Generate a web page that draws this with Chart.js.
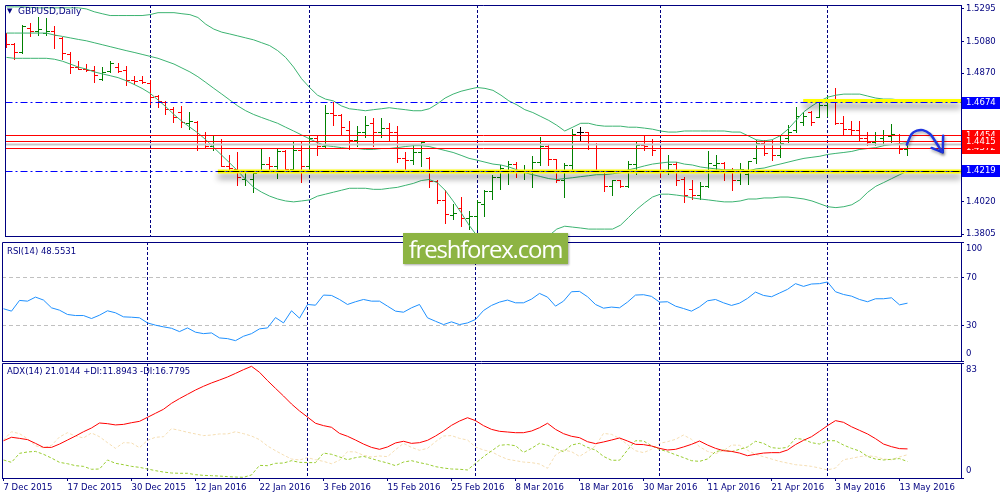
<!DOCTYPE html>
<html>
<head>
<meta charset="utf-8">
<title>GBPUSD Daily</title>
<script src="https://cdn.jsdelivr.net/npm/chart.js@4.4.1/dist/chart.umd.min.js"></script>
<style>
  html, body { margin: 0; background: #fff; }
  #wrap { position: relative; width: 1000px; height: 500px; overflow: hidden; background: #fff; }
  canvas { position: absolute; left: 0; }
  .t { position: absolute; font: 8.5px "DejaVu Sans", sans-serif; color: #000080; line-height: 10px; white-space: nowrap; }
  #wm { position: absolute; left: 403px; top: 233px; width: 165px; height: 31px; background: #8db443; color: #fff;
        font: 24px "Open Sans", sans-serif; letter-spacing: -1.2px; line-height: 31px; text-align: center;
        box-shadow: 1px 1px 2px rgba(0,0,0,0.35); }
</style>
</head>
<body>
<div id="wrap">
  <canvas id="main" width="1000" height="241" style="top:0;width:1000px;height:241px"></canvas>
  <canvas id="rsi" width="1000" height="121" style="top:241px;width:1000px;height:121px"></canvas>
  <canvas id="adx" width="1000" height="138" style="top:362px;width:1000px;height:138px"></canvas>
  <div class="t" style="left:7px;top:6px;font-size:7px">▼</div>
  <div class="t" style="left:18px;top:6px;font-size:9px">GBPUSD,Daily</div>
  <div class="t" style="left:7px;top:246px">RSI(14) 48.5531</div>
  <div class="t" style="left:7px;top:366px">ADX(14) 21.0144 +DI:11.8943 -DI:16.7795</div>
  <div id="wm">freshforex.com</div>
</div>
<script>
const NAVY = '#000080', UP = '#008000', DOWN = '#ff0000', BAND = '#3cb371';
const AXIS_FONT = { family: '"DejaVu Sans", sans-serif', size: 8.5, lineHeight: 1.6 };

// x axis: one bar per trading day, 7 Dec 2015 .. 16 May 2016
const dateLabels = ['7 Dec 2015', '17 Dec 2015', '30 Dec 2015', '12 Jan 2016', '22 Jan 2016', '3 Feb 2016', '15 Feb 2016',
  '25 Feb 2016', '8 Mar 2016', '18 Mar 2016', '30 Mar 2016', '11 Apr 2016', '21 Apr 2016', '3 May 2016', '13 May 2016'];
const labelBars = [0, 8, 16, 24, 32, 40, 48, 56, 64, 72, 80, 88, 96, 104, 112];
const monthStarts = [18, 38, 59, 82, 103];

const priceTicks = [1.3805, 1.4020, 1.4230, 1.4440, 1.4655, 1.4870, 1.5080, 1.5295];
const rsiTicks = [0, 30, 70, 100];
const adxTicks = [0, 83];

const openP = [
  1.5116, 1.5058, 1.5007, 1.5167, 1.5148, 1.5129, 1.5148, 1.5096, 1.4994, 1.4910,
  1.4897, 1.4884, 1.4827, 1.4878, 1.4910, 1.4884, 1.4820, 1.4820, 1.4801, 1.4718,
  1.4673, 1.4628, 1.4609, 1.4538, 1.4544, 1.4455, 1.4384, 1.4416, 1.4255, 1.4230,
  1.4166, 1.4166, 1.4223, 1.4268, 1.4249, 1.4352, 1.4230, 1.4358, 1.4249, 1.4435,
  1.4384, 1.4602, 1.4589, 1.4487, 1.4422, 1.4474, 1.4538, 1.4480, 1.4506, 1.4480,
  1.4306, 1.4294, 1.4345, 1.4306, 1.4153, 1.4024, 1.3928, 1.3973, 1.3909, 1.3921,
  1.4000, 1.4088, 1.4178, 1.4223, 1.4268, 1.4211, 1.4211, 1.4281, 1.4384, 1.4300,
  1.4159, 1.4256, 1.4480, 1.4474, 1.4371, 1.4223, 1.4121, 1.4159, 1.4121, 1.4262,
  1.4390, 1.4371, 1.4371, 1.4223, 1.4268, 1.4166, 1.4101, 1.4063, 1.4121, 1.4256,
  1.4275, 1.4211, 1.4159, 1.4198, 1.4306, 1.4403, 1.4371, 1.4326, 1.4435, 1.4487,
  1.4544, 1.4609, 1.4576, 1.4654, 1.4692, 1.4538, 1.4499, 1.4493, 1.4435, 1.4410,
  1.4435, 1.4448, 1.4455, 1.4365];
const highP = [
  1.5129, 1.5064, 1.5186, 1.5199, 1.5238, 1.5231, 1.5180, 1.5103, 1.5007, 1.4949,
  1.4930, 1.4917, 1.4904, 1.4949, 1.4936, 1.4917, 1.4846, 1.4846, 1.4820, 1.4724,
  1.4679, 1.4641, 1.4647, 1.4609, 1.4551, 1.4480, 1.4448, 1.4429, 1.4326, 1.4345,
  1.4223, 1.4223, 1.4365, 1.4313, 1.4365, 1.4358, 1.4416, 1.4416, 1.4448, 1.4448,
  1.4653, 1.4673, 1.4596, 1.4551, 1.4519, 1.4583, 1.4570, 1.4570, 1.4538, 1.4519,
  1.4345, 1.4397, 1.4416, 1.4313, 1.4159, 1.4095, 1.3999, 1.4044, 1.3954, 1.4024,
  1.4095, 1.4191, 1.4256, 1.4288, 1.4281, 1.4256, 1.4320, 1.4442, 1.4390, 1.4300,
  1.4275, 1.4499, 1.4512, 1.4474, 1.4403, 1.4223, 1.4159, 1.4159, 1.4288, 1.4416,
  1.4455, 1.4429, 1.4377, 1.4326, 1.4281, 1.4178, 1.4159, 1.4146, 1.4352, 1.4326,
  1.4281, 1.4242, 1.4275, 1.4288, 1.4422, 1.4422, 1.4422, 1.4455, 1.4525, 1.4641,
  1.4609, 1.4615, 1.4686, 1.4718, 1.4769, 1.4583, 1.4551, 1.4551, 1.4480, 1.4480,
  1.4487, 1.4532, 1.4467, 1.4410];
const lowP = [
  1.5039, 1.4962, 1.5000, 1.5109, 1.5122, 1.5116, 1.5032, 1.4962, 1.4865, 1.4891,
  1.4878, 1.4808, 1.4820, 1.4872, 1.4872, 1.4788, 1.4795, 1.4801, 1.4660, 1.4641,
  1.4596, 1.4544, 1.4512, 1.4499, 1.4358, 1.4371, 1.4358, 1.4249, 1.4230, 1.4127,
  1.4127, 1.4082, 1.4211, 1.4223, 1.4172, 1.4230, 1.4223, 1.4146, 1.4223, 1.4326,
  1.4377, 1.4525, 1.4455, 1.4365, 1.4384, 1.4442, 1.4384, 1.4442, 1.4416, 1.4281,
  1.4230, 1.4262, 1.4249, 1.4114, 1.4005, 1.3877, 1.3902, 1.3857, 1.3838, 1.3838,
  1.3921, 1.4037, 1.4101, 1.4133, 1.4178, 1.4166, 1.4114, 1.4256, 1.4256, 1.4146,
  1.4050, 1.4217, 1.4416, 1.4365, 1.4211, 1.4089, 1.4063, 1.4114, 1.4114, 1.4198,
  1.4358, 1.4326, 1.4178, 1.4198, 1.4127, 1.4011, 1.4037, 1.4037, 1.4114, 1.4211,
  1.4159, 1.4095, 1.4133, 1.4133, 1.4275, 1.4326, 1.4294, 1.4313, 1.4410, 1.4480,
  1.4525, 1.4525, 1.4576, 1.4583, 1.4532, 1.4455, 1.4455, 1.4422, 1.4390, 1.4390,
  1.4390, 1.4410, 1.4339, 1.4326];
const closeP = [
  1.5058, 1.5007, 1.5180, 1.5148, 1.5161, 1.5148, 1.5122, 1.5000, 1.4904, 1.4897,
  1.4884, 1.4853, 1.4872, 1.4936, 1.4878, 1.4820, 1.4814, 1.4808, 1.4711, 1.4679,
  1.4628, 1.4576, 1.4544, 1.4551, 1.4455, 1.4384, 1.4416, 1.4255, 1.4242, 1.4178,
  1.4211, 1.4204, 1.4268, 1.4249, 1.4352, 1.4230, 1.4358, 1.4249, 1.4435, 1.4384,
  1.4602, 1.4589, 1.4512, 1.4422, 1.4474, 1.4525, 1.4480, 1.4506, 1.4480, 1.4306,
  1.4294, 1.4345, 1.4410, 1.4153, 1.4024, 1.3934, 1.3941, 1.3909, 1.3921, 1.4011,
  1.4088, 1.4178, 1.4242, 1.4268, 1.4223, 1.4223, 1.4281, 1.4384, 1.4300, 1.4159,
  1.4256, 1.4461, 1.4480, 1.4371, 1.4223, 1.4121, 1.4159, 1.4121, 1.4262, 1.4390,
  1.4384, 1.4358, 1.4223, 1.4268, 1.4159, 1.4063, 1.4063, 1.4121, 1.4275, 1.4275,
  1.4211, 1.4159, 1.4230, 1.4288, 1.4403, 1.4339, 1.4326, 1.4403, 1.4480, 1.4583,
  1.4583, 1.4544, 1.4654, 1.4692, 1.4538, 1.4499, 1.4493, 1.4435, 1.4410, 1.4455,
  1.4455, 1.4461, 1.4365, 1.4397];

// Bollinger bands as drawn on the chart
const bbUpper = [
  1.5308, 1.5308, 1.5308, 1.5305, 1.5302, 1.5302, 1.5302, 1.5302, 1.5302, 1.5302,
  1.5295, 1.5276, 1.5263, 1.5251, 1.5251, 1.5251, 1.5251, 1.5251, 1.5257, 1.5270,
  1.5270, 1.5270, 1.5263, 1.5257, 1.5238, 1.5193, 1.5161, 1.5141, 1.5129, 1.5116,
  1.5103, 1.5090, 1.5071, 1.5052, 1.5019, 1.4974, 1.4910, 1.4833, 1.4775, 1.4724,
  1.4698, 1.4686, 1.4653, 1.4634, 1.4628, 1.4621, 1.4628, 1.4634, 1.4641, 1.4634,
  1.4628, 1.4621, 1.4621, 1.4634, 1.4666, 1.4705, 1.4731, 1.4750, 1.4763, 1.4775,
  1.4769, 1.4756, 1.4724, 1.4686, 1.4660, 1.4628, 1.4609, 1.4583, 1.4557, 1.4525,
  1.4487, 1.4512, 1.4538, 1.4538, 1.4525, 1.4519, 1.4519, 1.4519, 1.4512, 1.4512,
  1.4506, 1.4499, 1.4487, 1.4480, 1.4480, 1.4487, 1.4487, 1.4487, 1.4487, 1.4487,
  1.4487, 1.4480, 1.4480, 1.4455, 1.4429, 1.4422, 1.4429, 1.4455, 1.4499, 1.4557,
  1.4615, 1.4653, 1.4686, 1.4711, 1.4724, 1.4731, 1.4731, 1.4731, 1.4718, 1.4705,
  1.4698, 1.4698, 1.4692, 1.4679];
const bbMiddle = [
  1.5135, 1.5135, 1.5135, 1.5135, 1.5135, 1.5135, 1.5122, 1.5113, 1.5103, 1.5093,
  1.5084, 1.5071, 1.5058, 1.5045, 1.5032, 1.5019, 1.5007, 1.4994, 1.4981, 1.4968,
  1.4949, 1.4930, 1.4904, 1.4878, 1.4846, 1.4808, 1.4769, 1.4731, 1.4692, 1.4653,
  1.4621, 1.4596, 1.4576, 1.4557, 1.4538, 1.4512, 1.4487, 1.4461, 1.4435, 1.4410,
  1.4390, 1.4384, 1.4377, 1.4371, 1.4371, 1.4365, 1.4365, 1.4371, 1.4371, 1.4377,
  1.4384, 1.4390, 1.4390, 1.4384, 1.4371, 1.4358, 1.4345, 1.4326, 1.4306, 1.4294,
  1.4281, 1.4268, 1.4262, 1.4249, 1.4230, 1.4211, 1.4198, 1.4185, 1.4172, 1.4166,
  1.4172, 1.4178, 1.4185, 1.4191, 1.4198, 1.4198, 1.4204, 1.4211, 1.4230, 1.4242,
  1.4256, 1.4268, 1.4275, 1.4281, 1.4281, 1.4268, 1.4262, 1.4249, 1.4242, 1.4236,
  1.4230, 1.4230, 1.4230, 1.4223, 1.4236, 1.4242, 1.4256, 1.4268, 1.4281, 1.4294,
  1.4306, 1.4313, 1.4320, 1.4332, 1.4339, 1.4345, 1.4352, 1.4365, 1.4371, 1.4377,
  1.4390, 1.4397, 1.4403, 1.4410];
const bbLower = [
  1.4974, 1.4968, 1.4968, 1.4968, 1.4968, 1.4968, 1.4962, 1.4949, 1.4930, 1.4910,
  1.4897, 1.4878, 1.4865, 1.4853, 1.4840, 1.4820, 1.4795, 1.4769, 1.4737, 1.4692,
  1.4647, 1.4596, 1.4551, 1.4512, 1.4474, 1.4429, 1.4377, 1.4326, 1.4275, 1.4223,
  1.4166, 1.4114, 1.4082, 1.4056, 1.4037, 1.4024, 1.4018, 1.4024, 1.4031, 1.4056,
  1.4069, 1.4082, 1.4095, 1.4108, 1.4108, 1.4108, 1.4101, 1.4101, 1.4108, 1.4114,
  1.4127, 1.4140, 1.4159, 1.4166, 1.4146, 1.4095, 1.4024, 1.3947, 1.3864, 1.3793,
  1.3742, 1.3716, 1.3703, 1.3697, 1.3703, 1.3716, 1.3729, 1.3755, 1.3793, 1.3838,
  1.3857, 1.3851, 1.3845, 1.3838, 1.3838, 1.3838, 1.3838, 1.3864, 1.3915, 1.3967,
  1.4011, 1.4050, 1.4069, 1.4069, 1.4063, 1.4056, 1.4044, 1.4037, 1.4031, 1.4024,
  1.4018, 1.4018, 1.4024, 1.4037, 1.4037, 1.4044, 1.4044, 1.4050, 1.4050, 1.4044,
  1.4037, 1.4024, 1.4005, 1.3986, 1.3980, 1.3986, 1.3999, 1.4031, 1.4082, 1.4121,
  1.4146, 1.4172, 1.4198, 1.4223];

const rsi14 = [
  43.9, 41.9, 50.9, 50.3, 53.7, 51.2, 44.7, 42.7, 39.1, 38.2,
  38.2, 35.7, 38.5, 42.2, 40.5, 37.1, 36.8, 36.3, 32.0, 30.1,
  28.7, 27.5, 24.7, 27.8, 24.2, 23.0, 23.6, 19.4, 18.8, 17.1,
  20.8, 23.0, 27.0, 27.8, 36.5, 32.0, 42.2, 36.0, 47.5, 46.9,
  55.4, 55.1, 51.7, 47.5, 49.8, 51.7, 50.3, 50.3, 46.1, 41.9,
  41.0, 44.7, 47.5, 36.3, 33.4, 30.6, 32.9, 30.6, 32.0, 34.9,
  42.4, 46.7, 49.5, 51.2, 48.9, 48.9, 52.0, 56.8, 53.7, 46.1,
  50.3, 58.2, 58.5, 54.0, 47.5, 44.4, 45.3, 44.7, 49.5, 55.4,
  55.7, 54.3, 49.5, 49.8, 46.1, 44.1, 41.9, 45.5, 50.6, 51.7,
  48.9, 46.7, 48.6, 52.6, 57.9, 55.1, 54.0, 57.1, 60.2, 65.0,
  62.7, 64.7, 65.0, 66.4, 58.2, 55.9, 54.5, 51.7, 49.8, 52.3,
  52.3, 53.1, 47.2, 48.6];

const adx14 = [
  26.9, 29.4, 28.6, 27.7, 25.0, 22.1, 22.1, 24.5, 27.4, 30.3,
  33.4, 36.1, 39.7, 39.2, 38.3, 38.7, 39.9, 40.9, 43.8, 46.7,
  49.6, 53.9, 57.3, 60.4, 63.5, 66.2, 68.6, 70.7, 72.9, 75.5,
  78.2, 80.6, 76.3, 70.3, 64.7, 59.2, 53.4, 48.4, 44.0, 39.5,
  37.8, 36.6, 32.2, 30.1, 27.4, 24.5, 22.1, 20.7, 22.4, 25.3,
  26.5, 25.0, 25.5, 27.2, 30.3, 33.9, 38.0, 41.1, 43.5, 41.4,
  37.8, 35.1, 33.7, 33.2, 32.7, 32.7, 33.9, 36.3, 39.5, 35.1,
  32.0, 30.1, 29.1, 26.2, 24.8, 26.0, 27.4, 28.9, 26.7, 24.3,
  24.1, 23.1, 21.4, 20.2, 20.7, 22.4, 24.3, 26.7, 23.8, 21.4,
  19.7, 19.2, 18.0, 16.1, 17.1, 18.0, 18.3, 18.3, 20.2, 24.1,
  27.2, 29.8, 33.7, 37.8, 41.4, 40.2, 37.0, 34.4, 31.8, 28.4,
  24.5, 22.6, 21.2, 21.0];
const plusDI = [
  13.0, 11.3, 17.8, 18.8, 19.2, 17.1, 14.4, 11.3, 10.3, 8.9,
  8.4, 6.3, 6.5, 13.0, 10.6, 9.6, 8.4, 7.7, 6.5, 5.3,
  4.3, 3.6, 3.4, 3.4, 2.4, 1.9, 1.7, 1.4, 1.0, 0.7,
  0.5, 2.2, 9.1, 8.9, 10.6, 10.8, 12.5, 11.3, 11.1, 11.1,
  18.0, 17.1, 15.2, 13.2, 14.7, 15.6, 14.0, 12.3, 10.8, 8.9,
  11.5, 12.5, 11.1, 9.9, 8.2, 7.2, 6.5, 6.3, 5.8, 10.6,
  15.4, 19.5, 23.6, 24.1, 23.3, 18.5, 21.4, 25.0, 23.6, 21.2,
  19.0, 23.8, 25.0, 22.1, 20.2, 15.6, 12.8, 12.8, 20.2, 26.9,
  26.7, 23.3, 20.7, 19.0, 16.8, 14.7, 12.5, 12.0, 13.7, 19.0,
  20.2, 19.0, 20.7, 22.4, 26.5, 25.0, 21.9, 21.4, 22.1, 28.6,
  27.9, 25.5, 24.5, 26.9, 26.9, 23.8, 21.4, 19.5, 15.6, 13.7,
  13.0, 13.5, 14.0, 11.9];
const minusDI = [
  27.4, 33.4, 32.0, 28.4, 23.3, 21.7, 23.6, 29.6, 32.7, 30.3,
  28.9, 32.5, 29.8, 25.5, 21.4, 25.5, 25.3, 21.9, 27.2, 29.4,
  29.8, 35.6, 34.4, 33.0, 31.8, 30.6, 31.0, 31.8, 31.8, 33.4,
  32.0, 30.3, 27.7, 23.1, 19.7, 16.6, 13.7, 13.0, 14.7, 13.2,
  12.0, 10.3, 12.8, 19.0, 18.8, 16.4, 15.2, 15.9, 15.4, 20.4,
  25.0, 22.1, 20.0, 21.4, 26.2, 30.3, 30.6, 28.6, 27.4, 22.4,
  20.2, 19.0, 15.9, 13.5, 12.5, 11.5, 11.1, 10.1, 7.0, 16.6,
  20.2, 19.0, 15.6, 19.2, 23.1, 32.2, 31.5, 28.6, 24.1, 19.7,
  18.3, 20.7, 25.0, 26.2, 27.9, 31.0, 27.9, 22.6, 19.2, 17.6,
  19.7, 23.8, 23.6, 20.0, 17.1, 15.4, 13.7, 12.0, 10.8, 9.6,
  9.1, 8.4, 7.2, 5.8, 7.2, 13.2, 14.2, 15.4, 16.1, 15.4,
  13.7, 13.2, 15.2, 16.8];

// horizontal levels and the hand-drawn arrow
const redLevels = [1.4454, 1.4415, 1.4372];
const blueLevels = [1.4674, 1.4219];
const highlightLevels = [1.4686, 1.4219];
const highlightFrom = [99.9, 26.5];
const arrowX = [112.9, 113.5, 114.15, 114.9, 115.8, 116.4, 117.3];
const arrowY = [1.4397, 1.4467, 1.4489, 1.4493, 1.4467, 1.4424, 1.4350];
const headX = [116.0, 117.4, 117.45];
const headY = [1.4375, 1.4345, 1.4456];

// view ranges (plot is 959px wide, 8px per bar)
const X_MIN = -0.1875, X_MAX = X_MIN + 959 / 8;
const P_MIN = 1.37922, P_MAX = 1.53207;

const pts = a => a.map((y, x) => ({ x, y }));
const xy = (xs, ys) => xs.map((x, k) => ({ x, y: ys[k] }));
const span = (y, x0 = X_MIN, x1 = X_MAX) => [{ x: x0, y }, { x: x1, y }];

const barColor = closeP.map((c, i) => c > openP[i] ? UP : c < openP[i] ? DOWN : '#000000');
function tickImage(color, left) {
  const c = document.createElement('canvas'); c.width = 7; c.height = 1;
  const g = c.getContext('2d'); g.fillStyle = color; g.fillRect(left ? 0 : 4, 0, 3, 1);
  return c;
}
const openTick = {}, closeTick = {};
[UP, DOWN, '#000000'].forEach(c => { openTick[c] = tickImage(c, true); closeTick[c] = tickImage(c, false); });

// keep 1px marks crisp: snap library-computed element positions to the pixel grid
const snap = { id: 'snap', afterDatasetsUpdate(chart) {
  chart.data.datasets.forEach((ds, k) => {
    if (!ds.snap) return;
    chart.getDatasetMeta(k).data.forEach(el => {
      el.x = Math.floor(el.x) + 0.5;
      if (ds.type === 'bar') {
        const top = Math.floor(Math.min(el.y, el.base)), bot = Math.floor(Math.max(el.y, el.base)) + 1;
        el.y = top; el.base = bot;
      } else el.y = Math.floor(el.y) + 0.5;
    });
  });
}};
const shadow = { id: 'shadow',
  beforeDatasetDraw(chart, args) {
    const s = chart.data.datasets[args.index].shadow; if (!s) return;
    const c = chart.ctx; c.save(); c.shadowColor = s[0]; c.shadowBlur = s[1]; c.shadowOffsetY = s[2]; c.shadowOffsetX = s[3] || 0;
  },
  afterDatasetDraw(chart, args) { if (chart.data.datasets[args.index].shadow) chart.ctx.restore(); }
};
const frame = { id: 'frame', afterDraw(chart, args, opts) {
  const { ctx, chartArea: a } = chart;
  ctx.save(); ctx.strokeStyle = NAVY; ctx.lineWidth = 1; ctx.beginPath();
  ctx.moveTo(a.left + 0.5, a.bottom); ctx.lineTo(a.left + 0.5, a.top + 0.5); ctx.lineTo(a.right, a.top + 0.5);
  if (opts.bottom) { ctx.moveTo(a.left, a.bottom + 0.5); ctx.lineTo(a.right, a.bottom + 0.5); }
  ctx.stroke(); ctx.restore();
}};
const tagList = [...blueLevels.map(v => ({ v, bg: '#0000ff' })), ...[0, 2, 1].map(k => ({ v: redLevels[k], bg: '#ff0000' }))];
const tags = { id: 'tags', afterDraw(chart) {
  const ys = chart.scales.y, ctx = chart.ctx;
  ctx.save(); ctx.font = '8.5px "DejaVu Sans", sans-serif'; ctx.textBaseline = 'middle';
  tagList.forEach(t => {
    const y = Math.round(ys.getPixelForValue(t.v));
    ctx.fillStyle = t.bg; ctx.fillRect(ys.left + 1, y - 6, ys.width, 12);
    ctx.fillStyle = '#fff'; ctx.fillText(t.v.toFixed(4), ys.left + 5, y);
  });
  ctx.restore();
}};

function zeroPad(s) { s.paddingLeft = 0; s.paddingRight = 0; s.paddingTop = 0; s.paddingBottom = 0; }
function xAxes(withLabels) {
  return {
    x: {
      type: 'linear', min: X_MIN, max: X_MAX, offset: false, bounds: 'data', display: withLabels,
      grid: { offset: false, drawOnChartArea: false, drawTicks: true, tickLength: 3, tickColor: NAVY, color: NAVY },
      border: { display: true, color: NAVY },
      ticks: { display: withLabels, autoSkip: false, maxRotation: 0, align: 'start', padding: 2, color: NAVY, font: { ...AXIS_FONT, lineHeight: 1.2 },
               callback: (v, k) => dateLabels[k] },
      afterBuildTicks: s => { s.ticks = labelBars.map(v => ({ value: v })); },
      afterFit: s => { s.height = withLabels ? 22 : 0; zeroPad(s); }
    },
    x2: {
      axis: 'x', type: 'linear', min: X_MIN, max: X_MAX, offset: false, bounds: 'data', position: 'top',
      ticks: { display: false },
      grid: { offset: false, color: NAVY, lineWidth: 1, drawTicks: false },
      border: { display: false, dash: [3, 2] },
      afterBuildTicks: s => { s.ticks = monthStarts.map(v => ({ value: v })); },
      afterFit: s => { s.height = 0; zeroPad(s); }
    }
  };
}
function yAxis(min, max, ticks, label, gridColor, dash) {
  return {
    type: 'linear', position: 'right', min, max, bounds: 'data',
    grid: { drawOnChartArea: !!gridColor, color: gridColor || NAVY, tickLength: 3, tickColor: NAVY },
    border: { display: true, color: NAVY, dash: dash || [] },
    ticks: { autoSkip: false, padding: 2, color: NAVY, font: AXIS_FONT, callback: label },
    afterBuildTicks: s => { s.ticks = ticks.map(v => ({ value: v })); },
    afterFit: s => { s.width = 39; zeroPad(s); }
  };
}
const common = { responsive: false, animation: false, devicePixelRatio: 1, events: [] };
const noLegend = { legend: { display: false }, tooltip: { enabled: false } };
const line = (data, color, extra) => Object.assign({ data, borderColor: color, borderWidth: 1, pointRadius: 0 }, extra);

new Chart(document.getElementById('main'), {
  type: 'line',
  data: { datasets: [
    { type: 'bar', data: lowP.map((l, i) => ({ x: i, y: [l, highP[i]] })), backgroundColor: barColor,
      barThickness: 1, inflateAmount: 0, snap: true, order: 6 },
    { data: pts(openP), showLine: false, pointStyle: barColor.map(c => openTick[c]), pointRadius: 3, snap: true, order: 6 },
    { data: pts(closeP), showLine: false, pointStyle: barColor.map(c => closeTick[c]), pointRadius: 3, snap: true, order: 6 },
    ...[bbUpper, bbMiddle, bbLower].map(a => line(pts(a), BAND, { order: 5 })),
    ...highlightLevels.map((v, k) => line(span(v, highlightFrom[k]), '#ffff00',
      { borderWidth: 4, shadow: ['rgba(0,0,0,0.45)', 6, 5], order: 4 })),
    line(span(closeP[closeP.length - 1]), '#c8c8c8', { borderWidth: 2, order: 3 }),
    ...redLevels.map(v => line(span(v), '#ff0000', { snap: true, order: 2 })),
    ...blueLevels.map(v => line(span(v), '#0000ff', { borderDash: [7, 3, 2, 3], snap: true, order: 2 })),
    line(span(blueLevels[1], highlightFrom[1]), '#000000', { borderDash: [7, 3, 2, 3], snap: true, order: 1 }),
    line(xy(arrowX, arrowY), '#1f35e0', { borderWidth: 2.5, tension: 0.4, borderCapStyle: 'round',
      shadow: ['rgba(0,0,0,0.35)', 3, 2, 1], order: 0 }),
    line(xy(headX, headY), '#1f35e0', { borderWidth: 2.5, borderCapStyle: 'round', borderJoinStyle: 'round',
      shadow: ['rgba(0,0,0,0.35)', 3, 2, 1], order: 0 })
  ]},
  options: { ...common, layout: { padding: { left: 2, top: 2, right: 0, bottom: 1 } },
    plugins: { ...noLegend, frame: { bottom: true } },
    scales: { ...xAxes(false), y: yAxis(P_MIN, P_MAX, priceTicks, v => v.toFixed(4)) } },
  plugins: [snap, shadow, frame, tags]
});

const rsiGrid = c => (c.tick && (c.tick.value === 30 || c.tick.value === 70)) ? '#c0c0c0' : 'rgba(0,0,0,0)';
new Chart(document.getElementById('rsi'), {
  type: 'line',
  data: { datasets: [ line(pts(rsi14), '#1e90ff') ] },
  options: { ...common, layout: { padding: { left: 2, top: 1, right: 0, bottom: 1 } },
    plugins: { ...noLegend, frame: { bottom: true } },
    scales: { ...xAxes(false),
      y: yAxis(0, 100, rsiTicks, v => v === 100 ? ['', '100'] : v === 0 ? ['0', ''] : String(v), rsiGrid, [4, 3]) } },
  plugins: [frame]
});

new Chart(document.getElementById('adx'), {
  type: 'line',
  data: { datasets: [
    line(pts(adx14), '#ff0000', { order: 1 }),
    line(pts(plusDI), '#9acd32', { borderDash: [3, 2], order: 2 }),
    line(pts(minusDI), '#f5deb3', { borderDash: [3, 2], order: 3 })
  ]},
  options: { ...common, layout: { padding: { left: 2, top: 1, right: 0, bottom: 0 } },
    plugins: { ...noLegend, frame: { bottom: false } },
    scales: { ...xAxes(true), y: yAxis(0, 83, adxTicks, v => v === 83 ? ['', '83'] : ['0', '']) } },
  plugins: [frame]
});
</script>
</body>
</html>
